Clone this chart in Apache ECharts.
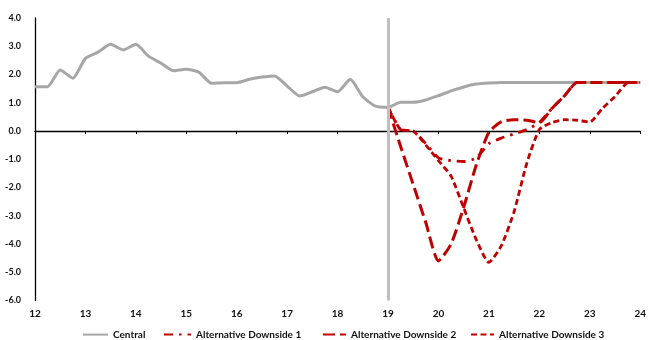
<!DOCTYPE html>
<html>
<head>
<meta charset="utf-8">
<script src="https://cdn.jsdelivr.net/npm/echarts@6/dist/echarts.min.js"></script>
<style>html,body{margin:0;padding:0;background:#fff;}#c{width:649px;height:340px;}</style>
</head>
<body>
<div id="c"></div>
<script>
var quarters = [12,12.25,12.5,12.75,13,13.25,13.5,13.75,14,14.25,14.5,14.75,15,15.25,15.5,15.75,16,16.25,16.5,16.75,17,17.25,17.5,17.75,18,18.25,18.5,18.75,19,19.25,19.5,19.75,20,20.25,20.5,20.75,21,21.25,21.5,21.75,22,22.25,22.5,22.75,23,23.25,23.5,23.75,24];
var central = [1.57,1.57,2.16,1.87,2.57,2.79,3.07,2.87,3.07,2.65,2.40,2.13,2.19,2.08,1.69,1.71,1.71,1.83,1.91,1.95,1.59,1.24,1.39,1.55,1.39,1.83,1.21,0.88,0.84,1.02,1.02,1.10,1.25,1.42,1.56,1.66,1.70,1.72,1.72,1.72,1.72,1.72,1.72,1.72,1.72,1.72,1.72,1.72,1.72];
var alt1 = [null,null,null,null,null,null,null,null,null,null,null,null,null,null,null,null,null,null,null,null,null,null,null,null,null,null,null,null,0.84,0.05,0.0,-0.45,-0.95,-1.05,-1.08,-0.95,-0.45,-0.25,-0.1,0.05,0.3,0.8,1.25,1.72,1.72,1.72,1.72,1.72,1.72];
var alt2 = [null,null,null,null,null,null,null,null,null,null,null,null,null,null,null,null,null,null,null,null,null,null,null,null,null,null,null,null,0.84,-0.55,-1.9,-3.25,-4.6,-4.0,-2.7,-1.2,-0.05,0.33,0.4,0.38,0.3,0.8,1.25,1.72,1.72,1.72,1.72,1.72,1.72];
var alt3 = [null,null,null,null,null,null,null,null,null,null,null,null,null,null,null,null,null,null,null,null,null,null,null,null,null,null,null,null,0.84,0.05,0.0,-0.5,-1.05,-1.6,-2.72,-3.85,-4.65,-4.05,-2.85,-1.15,0.05,0.3,0.4,0.38,0.32,0.8,1.22,1.7,1.72];
var xTicks = [12,13,14,15,16,17,18,19,20,21,22,23,24];
var yTicks = [-6,-5,-4,-3,-2,-1,0,1,2,3,4];
var names = ['Central','Alternative Downside 1','Alternative Downside 2','Alternative Downside 3'];

function pairs(v){ return quarters.map(function(q,i){ return [q, v[i]]; }); }
var FONT = 'Lato';
var RED = '#c00000';
function legend(name, left, w){
  return {data:[name], left:left, top:329, itemWidth:w, itemHeight:14, padding:0, itemGap:0,
    itemStyle:{opacity:0, borderWidth:0},
    textStyle:{fontFamily:FONT, fontWeight:'bold', fontSize:10, color:'#111'}};
}
var chart = echarts.init(document.getElementById('c'));
chart.setOption({
  animation:false,
  grid:{left:35, right:4, top:18, bottom:39.5, containLabel:false},
  legend:[legend(names[0],82,25), legend(names[1],163,27), legend(names[2],322,23), legend(names[3],470,23)],
  xAxis:[
    {type:'value', min:xTicks[0], max:xTicks[xTicks.length-1], interval:1, position:'bottom',
     axisLine:{show:false, onZero:false}, axisTick:{show:false}, splitLine:{show:false},
     axisLabel:{margin:8, fontFamily:FONT, fontWeight:'bold', fontSize:10, color:'#111'}},
    {type:'value', min:xTicks[0], max:xTicks[xTicks.length-1], interval:1, position:'bottom',
     axisLine:{show:true, onZero:true, lineStyle:{color:'#000', width:1.3}},
     axisTick:{show:true, length:3, lineStyle:{color:'#000', width:1}},
     axisLabel:{show:false}, splitLine:{show:false}}
  ],
  yAxis:{type:'value', min:yTicks[0], max:yTicks[yTicks.length-1], interval:1,
    axisLine:{show:true, onZero:false, lineStyle:{color:'#000', width:1.3}}, axisTick:{show:false}, splitLine:{show:false},
    axisLabel:{margin:14, fontFamily:FONT, fontWeight:'bold', fontSize:9, color:'#111',
      formatter:function(v){return v.toFixed(1);}}},
  series:[
    {name:names[0], type:'line', data:pairs(central), symbol:'none', smooth:0.2,
     lineStyle:{color:'#a6a6a6', width:3}, itemStyle:{color:'#a6a6a6'},
     markLine:{silent:true, symbol:'none', label:{show:false}, data:[{xAxis:19}],
       lineStyle:{color:'#bfbfbf', width:3, type:'solid'}}},
    {name:names[1], type:'line', data:pairs(alt1), symbol:'none', smooth:0.2,
     lineStyle:{color:RED, width:2.8, type:[9,6,2.5,6]}, itemStyle:{color:RED}},
    {name:names[2], type:'line', data:pairs(alt2), symbol:'none', smooth:0.2,
     lineStyle:{color:RED, width:3, type:[12,5]}, itemStyle:{color:RED}},
    {name:names[3], type:'line', data:pairs(alt3), symbol:'none', smooth:0.2,
     lineStyle:{color:RED, width:2.8, type:[6,3.5]}, itemStyle:{color:RED}}
  ]
});
</script>
</body>
</html>
